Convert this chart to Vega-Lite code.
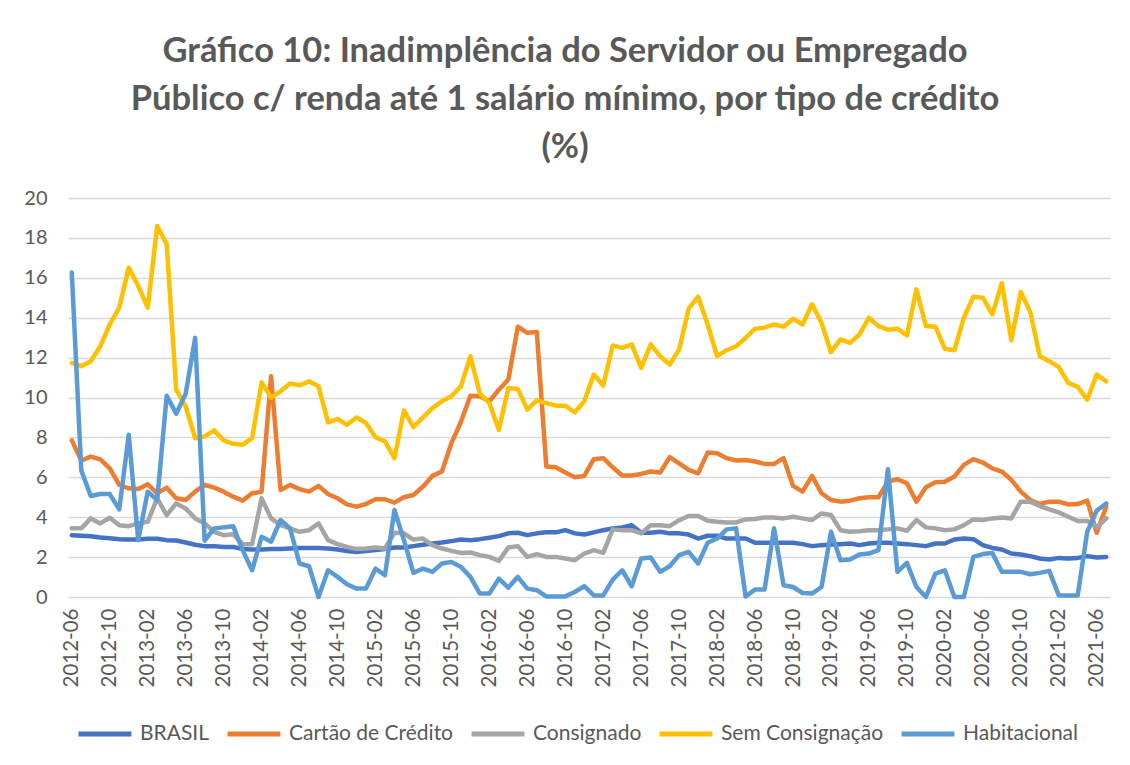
{
  "$schema": "https://vega.github.io/schema/vega-lite/v6.json",
  "width": 1042,
  "height": 399,
  "autosize": {"type": "none"},
  "padding": {"left": 68, "top": 198, "right": 20, "bottom": 168},
  "background": "white",
  "title": {
    "text": ["Gráfico 10: Inadimplência do Servidor ou Empregado", "Público c/ renda até 1 salário mínimo, por tipo de crédito", "(%)"],
    "font": "Lato",
    "fontSize": 34.5,
    "fontWeight": "bold",
    "color": "#595959",
    "lineHeight": 48,
    "anchor": "middle",
    "dx": -24,
    "offset": 23
  },
  "data": {
    "values": [
      {"m":"2012-06","BRASIL":3.1,"Cartão de Crédito":7.85,"Consignado":3.44,"Sem Consignação":11.73,"Habitacional":16.26},
      {"m":"2012-07","BRASIL":3.07,"Cartão de Crédito":6.84,"Consignado":3.44,"Sem Consignação":11.57,"Habitacional":6.34},
      {"m":"2012-08","BRASIL":3.05,"Cartão de Crédito":7.04,"Consignado":3.94,"Sem Consignação":11.82,"Habitacional":5.06},
      {"m":"2012-09","BRASIL":2.98,"Cartão de Crédito":6.9,"Consignado":3.69,"Sem Consignação":12.57,"Habitacional":5.16},
      {"m":"2012-10","BRASIL":2.95,"Cartão de Crédito":6.45,"Consignado":3.97,"Sem Consignação":13.66,"Habitacional":5.16},
      {"m":"2012-11","BRASIL":2.9,"Cartão de Crédito":5.62,"Consignado":3.6,"Sem Consignação":14.5,"Habitacional":4.39},
      {"m":"2012-12","BRASIL":2.88,"Cartão de Crédito":5.45,"Consignado":3.55,"Sem Consignação":16.51,"Habitacional":8.13},
      {"m":"2013-01","BRASIL":2.88,"Cartão de Crédito":5.41,"Consignado":3.69,"Sem Consignação":15.59,"Habitacional":2.85},
      {"m":"2013-02","BRASIL":2.92,"Cartão de Crédito":5.65,"Consignado":3.77,"Sem Consignação":14.5,"Habitacional":5.28},
      {"m":"2013-03","BRASIL":2.92,"Cartão de Crédito":5.2,"Consignado":4.95,"Sem Consignação":18.6,"Habitacional":4.86},
      {"m":"2013-04","BRASIL":2.85,"Cartão de Crédito":5.48,"Consignado":4.1,"Sem Consignação":17.69,"Habitacional":10.09},
      {"m":"2013-05","BRASIL":2.83,"Cartão de Crédito":4.95,"Consignado":4.69,"Sem Consignação":10.39,"Habitacional":9.19},
      {"m":"2013-06","BRASIL":2.73,"Cartão de Crédito":4.86,"Consignado":4.44,"Sem Consignação":9.55,"Habitacional":10.19},
      {"m":"2013-07","BRASIL":2.62,"Cartão de Crédito":5.28,"Consignado":3.94,"Sem Consignação":7.96,"Habitacional":12.99},
      {"m":"2013-08","BRASIL":2.55,"Cartão de Crédito":5.62,"Consignado":3.69,"Sem Consignação":8.05,"Habitacional":2.82},
      {"m":"2013-09","BRASIL":2.55,"Cartão de Crédito":5.48,"Consignado":3.27,"Sem Consignação":8.35,"Habitacional":3.44},
      {"m":"2013-10","BRASIL":2.51,"Cartão de Crédito":5.28,"Consignado":3.1,"Sem Consignação":7.85,"Habitacional":3.49},
      {"m":"2013-11","BRASIL":2.51,"Cartão de Crédito":5.03,"Consignado":3.15,"Sem Consignação":7.68,"Habitacional":3.55},
      {"m":"2013-12","BRASIL":2.4,"Cartão de Crédito":4.83,"Consignado":2.65,"Sem Consignação":7.63,"Habitacional":2.35},
      {"m":"2014-01","BRASIL":2.38,"Cartão de Crédito":5.2,"Consignado":2.65,"Sem Consignação":7.96,"Habitacional":1.34},
      {"m":"2014-02","BRASIL":2.38,"Cartão de Crédito":5.28,"Consignado":4.95,"Sem Consignação":10.76,"Habitacional":3.02},
      {"m":"2014-03","BRASIL":2.4,"Cartão de Crédito":11.06,"Consignado":3.94,"Sem Consignação":10.0,"Habitacional":2.77},
      {"m":"2014-04","BRASIL":2.4,"Cartão de Crédito":5.36,"Consignado":3.6,"Sem Consignação":10.31,"Habitacional":3.86},
      {"m":"2014-05","BRASIL":2.43,"Cartão de Crédito":5.62,"Consignado":3.44,"Sem Consignação":10.7,"Habitacional":3.44},
      {"m":"2014-06","BRASIL":2.45,"Cartão de Crédito":5.41,"Consignado":3.27,"Sem Consignação":10.61,"Habitacional":1.68},
      {"m":"2014-07","BRASIL":2.46,"Cartão de Crédito":5.28,"Consignado":3.35,"Sem Consignação":10.81,"Habitacional":1.54},
      {"m":"2014-08","BRASIL":2.46,"Cartão de Crédito":5.57,"Consignado":3.69,"Sem Consignação":10.56,"Habitacional":0},
      {"m":"2014-09","BRASIL":2.43,"Cartão de Crédito":5.16,"Consignado":2.85,"Sem Consignação":8.75,"Habitacional":1.34},
      {"m":"2014-10","BRASIL":2.38,"Cartão de Crédito":4.95,"Consignado":2.65,"Sem Consignação":8.92,"Habitacional":1.01},
      {"m":"2014-11","BRASIL":2.31,"Cartão de Crédito":4.64,"Consignado":2.51,"Sem Consignação":8.63,"Habitacional":0.64},
      {"m":"2014-12","BRASIL":2.26,"Cartão de Crédito":4.53,"Consignado":2.4,"Sem Consignação":9.0,"Habitacional":0.42},
      {"m":"2015-01","BRASIL":2.3,"Cartão de Crédito":4.66,"Consignado":2.43,"Sem Consignação":8.72,"Habitacional":0.42},
      {"m":"2015-02","BRASIL":2.35,"Cartão de Crédito":4.9,"Consignado":2.48,"Sem Consignação":8.01,"Habitacional":1.42},
      {"m":"2015-03","BRASIL":2.4,"Cartão de Crédito":4.9,"Consignado":2.43,"Sem Consignação":7.8,"Habitacional":1.09},
      {"m":"2015-04","BRASIL":2.48,"Cartão de Crédito":4.73,"Consignado":3.22,"Sem Consignação":6.96,"Habitacional":4.36},
      {"m":"2015-05","BRASIL":2.48,"Cartão de Crédito":5.0,"Consignado":3.19,"Sem Consignação":9.35,"Habitacional":2.85},
      {"m":"2015-06","BRASIL":2.55,"Cartão de Crédito":5.11,"Consignado":2.88,"Sem Consignação":8.52,"Habitacional":1.21},
      {"m":"2015-07","BRASIL":2.62,"Cartão de Crédito":5.53,"Consignado":2.93,"Sem Consignação":9.0,"Habitacional":1.42},
      {"m":"2015-08","BRASIL":2.68,"Cartão de Crédito":6.07,"Consignado":2.6,"Sem Consignação":9.47,"Habitacional":1.26},
      {"m":"2015-09","BRASIL":2.73,"Cartão de Crédito":6.29,"Consignado":2.43,"Sem Consignação":9.81,"Habitacional":1.68},
      {"m":"2015-10","BRASIL":2.8,"Cartão de Crédito":7.71,"Consignado":2.31,"Sem Consignação":10.06,"Habitacional":1.76},
      {"m":"2015-11","BRASIL":2.88,"Cartão de Crédito":8.77,"Consignado":2.21,"Sem Consignação":10.56,"Habitacional":1.51},
      {"m":"2015-12","BRASIL":2.85,"Cartão de Crédito":10.09,"Consignado":2.23,"Sem Consignação":12.07,"Habitacional":1.01},
      {"m":"2016-01","BRASIL":2.9,"Cartão de Crédito":10.06,"Consignado":2.1,"Sem Consignação":10.2,"Habitacional":0.17},
      {"m":"2016-02","BRASIL":2.97,"Cartão de Crédito":9.81,"Consignado":2.01,"Sem Consignação":9.72,"Habitacional":0.17},
      {"m":"2016-03","BRASIL":3.05,"Cartão de Crédito":10.39,"Consignado":1.81,"Sem Consignação":8.38,"Habitacional":0.92},
      {"m":"2016-04","BRASIL":3.19,"Cartão de Crédito":10.9,"Consignado":2.48,"Sem Consignação":10.48,"Habitacional":0.47},
      {"m":"2016-05","BRASIL":3.22,"Cartão de Crédito":13.55,"Consignado":2.55,"Sem Consignação":10.43,"Habitacional":1.01},
      {"m":"2016-06","BRASIL":3.1,"Cartão de Crédito":13.24,"Consignado":2.01,"Sem Consignação":9.39,"Habitacional":0.42},
      {"m":"2016-07","BRASIL":3.19,"Cartão de Crédito":13.28,"Consignado":2.15,"Sem Consignação":9.86,"Habitacional":0.34},
      {"m":"2016-08","BRASIL":3.24,"Cartão de Crédito":6.54,"Consignado":2.01,"Sem Consignação":9.72,"Habitacional":0.03},
      {"m":"2016-09","BRASIL":3.24,"Cartão de Crédito":6.5,"Consignado":2.01,"Sem Consignação":9.59,"Habitacional":0.03},
      {"m":"2016-10","BRASIL":3.35,"Cartão de Crédito":6.24,"Consignado":1.93,"Sem Consignação":9.59,"Habitacional":0.03},
      {"m":"2016-11","BRASIL":3.19,"Cartão de Crédito":6.0,"Consignado":1.84,"Sem Consignação":9.25,"Habitacional":0.25},
      {"m":"2016-12","BRASIL":3.13,"Cartão de Crédito":6.07,"Consignado":2.18,"Sem Consignação":9.81,"Habitacional":0.54},
      {"m":"2017-01","BRASIL":3.24,"Cartão de Crédito":6.91,"Consignado":2.35,"Sem Consignação":11.15,"Habitacional":0.08},
      {"m":"2017-02","BRASIL":3.35,"Cartão de Crédito":6.96,"Consignado":2.21,"Sem Consignação":10.6,"Habitacional":0.08},
      {"m":"2017-03","BRASIL":3.44,"Cartão de Crédito":6.5,"Consignado":3.39,"Sem Consignação":12.61,"Habitacional":0.87},
      {"m":"2017-04","BRASIL":3.49,"Cartão de Crédito":6.09,"Consignado":3.35,"Sem Consignação":12.49,"Habitacional":1.34},
      {"m":"2017-05","BRASIL":3.6,"Cartão de Crédito":6.09,"Consignado":3.35,"Sem Consignação":12.66,"Habitacional":0.54},
      {"m":"2017-06","BRASIL":3.22,"Cartão de Crédito":6.17,"Consignado":3.19,"Sem Consignação":11.48,"Habitacional":1.93},
      {"m":"2017-07","BRASIL":3.22,"Cartão de Crédito":6.29,"Consignado":3.6,"Sem Consignação":12.66,"Habitacional":1.98},
      {"m":"2017-08","BRASIL":3.27,"Cartão de Crédito":6.24,"Consignado":3.6,"Sem Consignação":12.07,"Habitacional":1.26},
      {"m":"2017-09","BRASIL":3.19,"Cartão de Crédito":7.01,"Consignado":3.55,"Sem Consignação":11.65,"Habitacional":1.54},
      {"m":"2017-10","BRASIL":3.19,"Cartão de Crédito":6.7,"Consignado":3.85,"Sem Consignação":12.41,"Habitacional":2.1},
      {"m":"2017-11","BRASIL":3.13,"Cartão de Crédito":6.37,"Consignado":4.06,"Sem Consignação":14.45,"Habitacional":2.26},
      {"m":"2017-12","BRASIL":2.93,"Cartão de Crédito":6.2,"Consignado":4.06,"Sem Consignação":15.05,"Habitacional":1.68},
      {"m":"2018-01","BRASIL":3.07,"Cartão de Crédito":7.24,"Consignado":3.82,"Sem Consignação":13.66,"Habitacional":2.72},
      {"m":"2018-02","BRASIL":3.07,"Cartão de Crédito":7.21,"Consignado":3.77,"Sem Consignação":12.07,"Habitacional":2.93},
      {"m":"2018-03","BRASIL":2.93,"Cartão de Crédito":6.96,"Consignado":3.74,"Sem Consignação":12.37,"Habitacional":3.39},
      {"m":"2018-04","BRASIL":2.93,"Cartão de Crédito":6.84,"Consignado":3.74,"Sem Consignação":12.57,"Habitacional":3.44},
      {"m":"2018-05","BRASIL":2.93,"Cartão de Crédito":6.87,"Consignado":3.89,"Sem Consignação":12.99,"Habitacional":0.03},
      {"m":"2018-06","BRASIL":2.72,"Cartão de Crédito":6.79,"Consignado":3.91,"Sem Consignação":13.45,"Habitacional":0.37},
      {"m":"2018-07","BRASIL":2.72,"Cartão de Crédito":6.67,"Consignado":3.99,"Sem Consignação":13.5,"Habitacional":0.37},
      {"m":"2018-08","BRASIL":2.72,"Cartão de Crédito":6.67,"Consignado":3.99,"Sem Consignação":13.66,"Habitacional":3.44},
      {"m":"2018-09","BRASIL":2.72,"Cartão de Crédito":6.96,"Consignado":3.94,"Sem Consignação":13.55,"Habitacional":0.59},
      {"m":"2018-10","BRASIL":2.72,"Cartão de Crédito":5.57,"Consignado":4.02,"Sem Consignação":13.95,"Habitacional":0.5},
      {"m":"2018-11","BRASIL":2.65,"Cartão de Crédito":5.28,"Consignado":3.94,"Sem Consignação":13.66,"Habitacional":0.2},
      {"m":"2018-12","BRASIL":2.55,"Cartão de Crédito":6.07,"Consignado":3.86,"Sem Consignação":14.67,"Habitacional":0.17},
      {"m":"2019-01","BRASIL":2.6,"Cartão de Crédito":5.2,"Consignado":4.19,"Sem Consignação":13.75,"Habitacional":0.5},
      {"m":"2019-02","BRASIL":2.63,"Cartão de Crédito":4.86,"Consignado":4.11,"Sem Consignação":12.27,"Habitacional":3.27},
      {"m":"2019-03","BRASIL":2.65,"Cartão de Crédito":4.78,"Consignado":3.35,"Sem Consignação":12.91,"Habitacional":1.84},
      {"m":"2019-04","BRASIL":2.68,"Cartão de Crédito":4.83,"Consignado":3.27,"Sem Consignação":12.74,"Habitacional":1.88},
      {"m":"2019-05","BRASIL":2.6,"Cartão de Crédito":4.95,"Consignado":3.3,"Sem Consignação":13.16,"Habitacional":2.13},
      {"m":"2019-06","BRASIL":2.68,"Cartão de Crédito":5.0,"Consignado":3.35,"Sem Consignação":14.0,"Habitacional":2.18},
      {"m":"2019-07","BRASIL":2.72,"Cartão de Crédito":5.0,"Consignado":3.35,"Sem Consignação":13.58,"Habitacional":2.35},
      {"m":"2019-08","BRASIL":2.72,"Cartão de Crédito":5.78,"Consignado":3.39,"Sem Consignação":13.4,"Habitacional":6.4},
      {"m":"2019-09","BRASIL":2.68,"Cartão de Crédito":5.9,"Consignado":3.44,"Sem Consignação":13.45,"Habitacional":1.26},
      {"m":"2019-10","BRASIL":2.65,"Cartão de Crédito":5.7,"Consignado":3.32,"Sem Consignação":13.11,"Habitacional":1.71},
      {"m":"2019-11","BRASIL":2.6,"Cartão de Crédito":4.78,"Consignado":3.86,"Sem Consignação":15.42,"Habitacional":0.5},
      {"m":"2019-12","BRASIL":2.55,"Cartão de Crédito":5.5,"Consignado":3.49,"Sem Consignação":13.58,"Habitacional":0.0},
      {"m":"2020-01","BRASIL":2.68,"Cartão de Crédito":5.75,"Consignado":3.44,"Sem Consignação":13.55,"Habitacional":1.17},
      {"m":"2020-02","BRASIL":2.68,"Cartão de Crédito":5.78,"Consignado":3.35,"Sem Consignação":12.44,"Habitacional":1.34},
      {"m":"2020-03","BRASIL":2.88,"Cartão de Crédito":6.04,"Consignado":3.39,"Sem Consignação":12.37,"Habitacional":0},
      {"m":"2020-04","BRASIL":2.93,"Cartão de Crédito":6.62,"Consignado":3.6,"Sem Consignação":14.0,"Habitacional":0},
      {"m":"2020-05","BRASIL":2.9,"Cartão de Crédito":6.91,"Consignado":3.89,"Sem Consignação":15.05,"Habitacional":2.01},
      {"m":"2020-06","BRASIL":2.6,"Cartão de Crédito":6.74,"Consignado":3.86,"Sem Consignação":15.0,"Habitacional":2.15},
      {"m":"2020-07","BRASIL":2.46,"Cartão de Crédito":6.45,"Consignado":3.94,"Sem Consignação":14.17,"Habitacional":2.21},
      {"m":"2020-08","BRASIL":2.38,"Cartão de Crédito":6.29,"Consignado":3.99,"Sem Consignação":15.73,"Habitacional":1.26},
      {"m":"2020-09","BRASIL":2.18,"Cartão de Crédito":5.87,"Consignado":3.94,"Sem Consignação":12.87,"Habitacional":1.26},
      {"m":"2020-10","BRASIL":2.13,"Cartão de Crédito":5.28,"Consignado":4.78,"Sem Consignação":15.29,"Habitacional":1.26},
      {"m":"2020-11","BRASIL":2.05,"Cartão de Crédito":4.86,"Consignado":4.78,"Sem Consignação":14.28,"Habitacional":1.14},
      {"m":"2020-12","BRASIL":1.93,"Cartão de Crédito":4.66,"Consignado":4.56,"Sem Consignação":12.07,"Habitacional":1.21},
      {"m":"2021-01","BRASIL":1.88,"Cartão de Crédito":4.78,"Consignado":4.39,"Sem Consignação":11.82,"Habitacional":1.31},
      {"m":"2021-02","BRASIL":1.96,"Cartão de Crédito":4.78,"Consignado":4.24,"Sem Consignação":11.53,"Habitacional":0.08},
      {"m":"2021-03","BRASIL":1.93,"Cartão de Crédito":4.64,"Consignado":4.02,"Sem Consignação":10.73,"Habitacional":0.08},
      {"m":"2021-04","BRASIL":1.96,"Cartão de Crédito":4.66,"Consignado":3.81,"Sem Consignação":10.53,"Habitacional":0.08},
      {"m":"2021-05","BRASIL":2.05,"Cartão de Crédito":4.83,"Consignado":3.81,"Sem Consignação":9.89,"Habitacional":3.27},
      {"m":"2021-06","BRASIL":1.98,"Cartão de Crédito":3.22,"Consignado":3.49,"Sem Consignação":11.15,"Habitacional":4.33},
      {"m":"2021-07","BRASIL":2.01,"Cartão de Crédito":4.53,"Consignado":3.94,"Sem Consignação":10.81,"Habitacional":4.69}
    ]
  },
  "transform": [
    {"fold": ["BRASIL", "Cartão de Crédito", "Consignado", "Sem Consignação", "Habitacional"], "as": ["serie", "valor"]}
  ],
  "mark": {"type": "line", "strokeWidth": 4.5, "strokeCap": "round", "strokeJoin": "round"},
  "encoding": {
    "x": {
      "field": "m",
      "type": "ordinal",
      "sort": null,
      "scale": {"type": "point", "padding": 0.4},
      "axis": {
        "title": null,
        "values": ["2012-06","2012-10","2013-02","2013-06","2013-10","2014-02","2014-06","2014-10","2015-02","2015-06","2015-10","2016-02","2016-06","2016-10","2017-02","2017-06","2017-10","2018-02","2018-06","2018-10","2019-02","2019-06","2019-10","2020-02","2020-06","2020-10","2021-02","2021-06"],
        "labelAngle": -90,
        "labelAlign": "right",
        "labelBaseline": "middle",
        "labelFont": "Lato",
        "labelFontSize": 20.5,
        "labelColor": "#595959",
        "labelPadding": 11,
        "ticks": false,
        "domain": false,
        "grid": false
      }
    },
    "y": {
      "field": "valor",
      "type": "quantitative",
      "scale": {"domain": [0, 20], "nice": false},
      "axis": {
        "title": null,
        "values": [0, 2, 4, 6, 8, 10, 12, 14, 16, 18, 20],
        "labelFont": "Lato",
        "labelFontSize": 20,
        "labelColor": "#595959",
        "labelPadding": 21,
        "ticks": false,
        "domain": false,
        "grid": true,
        "gridColor": "#d9d9d9",
        "gridWidth": 1.5
      }
    },
    "color": {
      "field": "serie",
      "type": "nominal",
      "sort": ["BRASIL", "Cartão de Crédito", "Consignado", "Sem Consignação", "Habitacional"],
      "scale": {
        "domain": ["BRASIL", "Cartão de Crédito", "Consignado", "Sem Consignação", "Habitacional"],
        "range": ["#4472C4", "#ED7D31", "#A5A5A5", "#FFC000", "#5B9BD5"]
      },
      "legend": {
        "title": null,
        "orient": "none",
        "direction": "horizontal",
        "legendX": 8,
        "legendY": 507,
        "symbolType": "stroke",
        "symbolSize": 2800,
        "symbolStrokeWidth": 5,
        "labelFont": "Lato",
        "labelFontSize": 21,
        "labelLimit": 400,
        "labelColor": "#595959",
        "labelOffset": 6,
        "columnPadding": 7
      }
    }
  },
  "config": {
    "view": {"stroke": null}
  }
}
